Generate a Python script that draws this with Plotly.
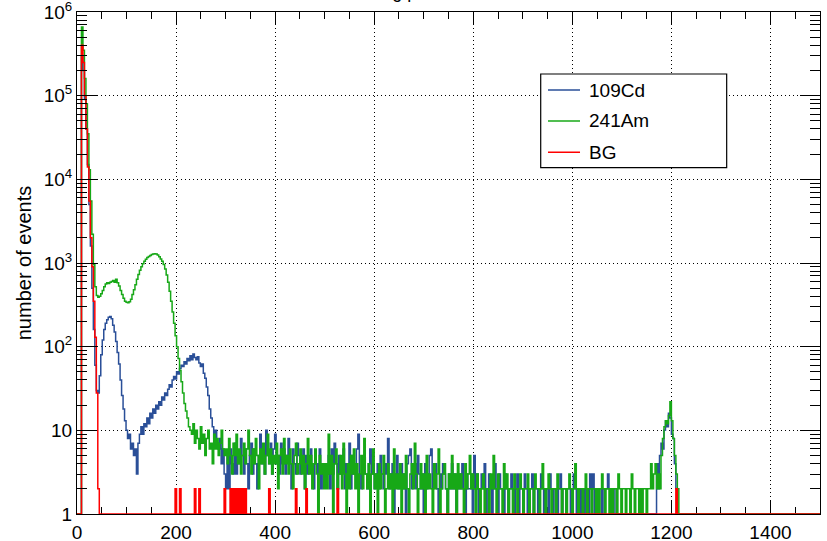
import numpy as np
import plotly.graph_objects as go

# Histogram binning (channel units)
BIN_WIDTH = 3
N_BINS = 500          # 0 .. 1500
Y_MIN = 1             # bottom of the log axis; empty bins are drawn here

# Counts per bin, starting at bin 0; bins past the end of a list are empty
cd109_counts = [
    0, 0, 0, 300000, 200000, 90000, 40000, 15000, 5000, 1600,
    500, 160, 60, 30, 28, 45, 80, 120, 160, 190,
    210, 225, 230, 215, 180, 150, 115, 85, 62, 40,
    26, 18, 13, 10, 8, 9, 6, 7, 5, 6,
    3, 7, 9, 11, 9, 12, 11, 14, 12, 16,
    14, 18, 16, 20, 18, 22, 20, 25, 23, 28,
    26, 31, 35, 33, 40, 44, 41, 50, 47, 55,
    60, 58, 66, 62, 72, 68, 78, 70, 82, 74,
    70, 76, 64, 58, 62, 48, 42, 33, 26, 18,
    14, 11, 8, 10, 7, 6, 8, 4, 6, 3,
    2, 5, 2, 6, 4, 3, 7, 3, 5, 4,
    8, 5, 3, 6, 4, 2, 5, 7, 3, 6,
    4, 2, 5, 9, 4, 6, 3, 10, 5, 4,
    7, 3, 6, 9, 4, 5, 3, 7, 4, 6,
    3, 5, 8, 4, 2, 6, 4, 3, 7, 5,
    3, 4, 6, 2, 5, 3, 4, 6, 3, 2,
    5, 4, 3, 6, 2, 4, 3, 4, 3, 5,
    2, 6, 3, 7, 4, 2, 5, 3, 4, 6,
    2, 4, 3, 7, 2, 5, 3, 4, 6, 9,
    3, 2, 4, 5, 3, 2, 4, 6, 3, 4,
    2, 3, 4, 2, 5, 3, 2, 4, 3, 8,
    2, 3, 4, 1, 3, 5, 2, 3, 4, 2,
    3, 1, 4, 5, 6, 2, 3, 4, 2, 5,
    3, 2, 3, 1, 4, 2, 3, 5, 6, 2,
    3, 4, 2, 1, 3, 2, 4, 3, 2, 1,
    3, 2, 4, 2, 3, 1, 2, 3, 2, 4,
    2, 1, 3, 2, 2, 3, 1, 5, 2, 3,
    1, 2, 3, 2, 4, 1, 2, 3, 2, 1,
    2, 4, 2, 1, 3, 2, 2, 1, 3, 2,
    1, 2, 3, 2, 1, 2, 3, 1, 2, 2,
    1, 3, 2, 1, 2, 2, 3, 1, 2, 2,
    1, 2, 3, 2, 1, 2, 2, 1, 3, 2,
    1, 2, 2, 1, 2, 3, 1, 2, 2, 1,
    2, 2, 1, 2, 3, 2, 1, 2, 2, 1,
    2, 1, 2, 2, 1, 3, 2, 3, 1, 2,
    1, 2, 2, 1, 2, 2, 2, 3, 2, 2,
    2, 2, 1, 0, 1, 0, 0, 1, 0, 0,
    0, 1, 0, 0, 0, 0, 1, 0, 0, 0,
    0, 1, 0, 0, 0, 1, 0, 0, 1, 1,
    4, 2, 5, 7, 6, 10, 13, 11, 16, 14,
    9, 8, 4, 2,
]

am241_counts = [
    0, 0, 0, 660000, 350000, 160000, 80000, 35000, 13000, 5500,
    2200, 950, 520, 410, 390, 400, 430, 470, 520, 560,
    580, 570, 590, 600, 620, 590, 640, 580, 530, 470,
    420, 380, 350, 340, 335, 345, 370, 420, 480, 550,
    640, 730, 820, 900, 980, 1050, 1110, 1160, 1200, 1230,
    1260, 1280, 1290, 1280, 1250, 1190, 1120, 1050, 960, 850,
    720, 590, 460, 350, 260, 190, 135, 100, 72, 52,
    38, 28, 21, 17, 14, 11, 10, 9, 12, 7,
    10, 8, 6, 11, 7, 9, 5, 8, 10, 6,
    7, 4, 9, 6, 8, 5, 7, 10, 6, 5,
    6, 4, 8, 5, 3, 7, 5, 9, 4, 6,
    3, 5, 7, 4, 6, 10, 5, 3, 6, 4,
    8, 5, 2, 6, 4, 7, 3, 5, 9, 4,
    6, 3, 5, 4, 7, 2, 5, 6, 3, 8,
    4, 5, 3, 6, 4, 2, 5, 7, 3, 4,
    6, 3, 5, 2, 4, 8, 3, 5, 2, 4,
    6, 3, 1, 5, 3, 4, 2, 4, 2, 9,
    3, 5, 1, 4, 6, 2, 3, 5, 2, 7,
    3, 1, 4, 2, 5, 3, 6, 2, 4, 1,
    3, 5, 2, 8, 3, 2, 4, 1, 3, 6,
    2, 3, 1, 4, 2, 3, 5, 1, 2, 4,
    2, 3, 1, 6, 2, 3, 2, 4, 1, 3,
    2, 5, 2, 1, 3, 4, 2, 7, 3, 1,
    2, 4, 2, 3, 1, 5, 2, 3, 2, 1,
    4, 2, 3, 6, 1, 2, 3, 4, 2, 1,
    3, 2, 5, 2, 3, 1, 4, 2, 3, 2,
    1, 4, 2, 3, 5, 2, 3, 2, 1, 3,
    2, 1, 2, 3, 1, 2, 2, 1, 3, 2,
    5, 2, 1, 3, 2, 2, 1, 4, 2, 3,
    1, 2, 2, 1, 3, 2, 1, 2, 3, 2,
    1, 2, 2, 3, 1, 2, 2, 1, 3, 2,
    2, 1, 2, 4, 2, 1, 2, 3, 2, 1,
    2, 2, 1, 3, 2, 2, 1, 2, 2, 1,
    2, 3, 2, 1, 2, 4, 2, 1, 2, 2,
    1, 2, 3, 1, 2, 2, 1, 2, 2, 1,
    2, 1, 2, 3, 2, 1, 2, 2, 1, 2,
    1, 2, 2, 1, 3, 2, 1, 2, 2, 1,
    2, 2, 1, 3, 2, 1, 2, 2, 1, 2,
    1, 2, 2, 1, 2, 2, 4, 2, 3, 4,
    2, 3, 2, 5, 8, 11, 13, 12, 15, 22,
    13, 8, 5, 3, 2,
]

# Background: main low-channel peak, then isolated bins
bg_peak_counts = [0, 0, 0, 400000, 250000, 100000, 40000, 14000, 5500, 2000,
                  900, 350, 130, 28, 2]
bg_isolated_bins = [66, 69, 79, 82, 99, 103, 105, 107, 109, 111, 113,
                    129, 147, 154, 175, 403]
bg_isolated_counts = [2, 2, 2, 2, 2, 2, 2, 2, 2, 2, 2, 2, 2, 2, 2, 2]

series_names = ["109Cd", "241Am", "BG"]
series_colors = ["#2a4f98", "#17a817", "#ff0000"]

x_ticks = [0, 200, 400, 600, 800, 1000, 1200, 1400]
y_ticks = [1, 10, 100, 1e3, 1e4, 1e5, 1e6]
y_tick_text = ["1", "10", "10<sup>2</sup>", "10<sup>3</sup>", "10<sup>4</sup>",
               "10<sup>5</sup>", "10<sup>6</sup>"]
y_minor = [m * 10 ** d for d in range(6) for m in range(2, 10)]


def full_histogram(counts):
    h = np.zeros(N_BINS)
    h[:len(counts)] = counts
    return h


bg = full_histogram(bg_peak_counts)
bg[bg_isolated_bins] = bg_isolated_counts

histograms = [full_histogram(cd109_counts), full_histogram(am241_counts), bg]

edges = np.arange(N_BINS + 1) * BIN_WIDTH
FONT = "Liberation Sans, Arial, Helvetica, sans-serif"

fig = go.Figure()
for name, color, h in zip(series_names, series_colors, histograms):
    shown = np.maximum(h, Y_MIN)
    fig.add_trace(go.Scatter(
        x=edges, y=np.append(shown, shown[-1]),
        mode="lines", line=dict(color=color, width=1.5, shape="hv"),
        name=name, showlegend=False,
    ))

axis_common = dict(
    showline=True, linecolor="black", linewidth=1, mirror="ticks",
    ticks="inside", tickcolor="black", tickwidth=1,
    showgrid=True, gridcolor="black", gridwidth=1, griddash="1px,3px",
    zeroline=False, tickfont=dict(family=FONT, size=19, color="black"),
    automargin=False, ticklabeloverflow="allow",
)

fig.update_xaxes(
    **axis_common, range=[0, 1500], tickvals=x_ticks, ticklen=13,
    ticklabelstandoff=1,
    minor=dict(ticks="inside", dtick=50, ticklen=7, tickcolor="black", showgrid=False),
    layer="below traces",
)
fig.update_yaxes(
    **axis_common, type="log", range=[0, 6.0002], tickvals=y_ticks, ticktext=y_tick_text,
    ticklen=20,
    minor=dict(ticks="inside", tickvals=y_minor, ticklen=10, tickcolor="black", showgrid=False),
    title=dict(text="number of events", font=dict(family=FONT, size=20, color="black"),
               standoff=6),
)

fig.add_annotation(
    text="Timing pulse", xref="paper", yref="paper", x=0.434, y=1.015,
    xanchor="center", yanchor="bottom", showarrow=False,
    font=dict(family=FONT, size=18, color="black"),
)

# Legend box (paper coordinates): frame, line samples and labels
LEG_X0, LEG_X1, LEG_Y0, LEG_Y1 = 0.6241, 0.8744, 0.6898, 0.8765
LEG_LINE_X0, LEG_LINE_X1, LEG_TEXT_X = 0.6339, 0.6770, 0.6860
LEG_ROWS = [0.8446, 0.7829, 0.7205]

fig.add_shape(type="rect", xref="paper", yref="paper",
              x0=LEG_X0, x1=LEG_X1, y0=LEG_Y0, y1=LEG_Y1,
              line=dict(color="black", width=1.2), fillcolor="white", layer="above")
for name, color, row in zip(series_names, series_colors, LEG_ROWS):
    fig.add_shape(type="line", xref="paper", yref="paper",
                  x0=LEG_LINE_X0, x1=LEG_LINE_X1, y0=row, y1=row,
                  line=dict(color=color, width=1.5), layer="above")
    fig.add_annotation(text=name, xref="paper", yref="paper", x=LEG_TEXT_X, y=row,
                       xanchor="left", yanchor="middle", showarrow=False,
                       font=dict(family=FONT, size=19, color="black"))

fig.update_layout(
    width=827, height=541,
    margin=dict(l=77, r=7, t=12, b=27),
    paper_bgcolor="white", plot_bgcolor="white",
    showlegend=False,
)

fig.write_html("out.html")
